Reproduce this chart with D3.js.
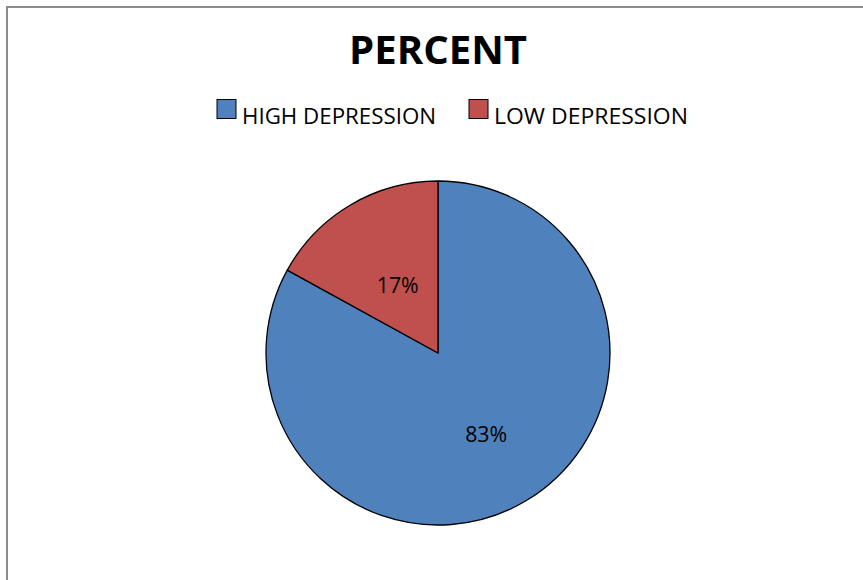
<!DOCTYPE html>
<html>
<head>
<meta charset="utf-8">
<script src="https://cdn.jsdelivr.net/npm/d3@7"></script>
<style>
  html, body { margin: 0; padding: 0; background: #fff; }
  svg { display: block; }
</style>
</head>
<body>
<svg id="chart" width="863" height="580"></svg>
<script>
// Share of respondents by depression level
const categories = ["HIGH DEPRESSION", "LOW DEPRESSION"];
const percents = [83, 17];
const colors = ["#4F81BD", "#C0504D"];
const title = "PERCENT";

const svg = d3.select("#chart");
const W = 863, H = 580;
const fontFamily = "Open Sans, Liberation Sans, sans-serif";

// chart area frame
svg.append("rect")
  .attr("x", 7).attr("y", 7)
  .attr("width", W).attr("height", H)
  .attr("fill", "#fff")
  .attr("stroke", "#8c8c8c")
  .attr("stroke-width", 2);

// title
svg.append("text")
  .attr("x", 438).attr("y", 64)
  .attr("text-anchor", "middle")
  .attr("font-family", fontFamily)
  .attr("font-weight", "bold")
  .attr("font-size", 40)
  .attr("fill", "#000")
  .attr("textLength", 178)
  .attr("lengthAdjust", "spacingAndGlyphs")
  .text(title);

// legend
const legendX = [217, 469];
const legend = svg.append("g");
categories.forEach((c, i) => {
  legend.append("rect")
    .attr("x", legendX[i]).attr("y", 99.5)
    .attr("width", 19).attr("height", 19)
    .attr("fill", colors[i])
    .attr("stroke", "#000").attr("stroke-width", 1);
  legend.append("text")
    .attr("x", legendX[i] + 25).attr("y", 124)
    .attr("font-family", fontFamily)
    .attr("font-size", 21)
    .attr("fill", "#000")
    .attr("textLength", 194)
    .attr("lengthAdjust", "spacingAndGlyphs")
    .text(c);
});

// pie
const cx = 438, cy = 353, r = 172;
const pie = d3.pie().sort(null).value(d => d)(percents);
const arc = d3.arc().innerRadius(0).outerRadius(r);
// label distance from centre, as a fraction of the radius, per slice
const labelRadius = [0.55, 0.46];

const g = svg.append("g").attr("transform", `translate(${cx},${cy})`);
g.selectAll("path.slice")
  .data(pie)
  .join("path")
  .attr("class", "slice")
  .attr("d", arc)
  .attr("fill", (d, i) => colors[i])
  .attr("stroke", "#000")
  .attr("stroke-width", 1.3)
  .attr("stroke-linejoin", "round");

g.selectAll("text.lbl")
  .data(pie)
  .join("text")
  .attr("class", "lbl")
  .attr("transform", (d, i) => {
    const rr = r * labelRadius[i];
    const c = d3.arc().innerRadius(rr).outerRadius(rr).centroid(d);
    return `translate(${c})`;
  })
  .attr("text-anchor", "middle")
  .attr("dy", "0.36em")
  .attr("font-family", fontFamily)
  .attr("font-size", 22)
  .attr("fill", "#000")
  .attr("textLength", 42)
  .attr("lengthAdjust", "spacingAndGlyphs")
  .text(d => d.data + "%");
</script>
</body>
</html>
